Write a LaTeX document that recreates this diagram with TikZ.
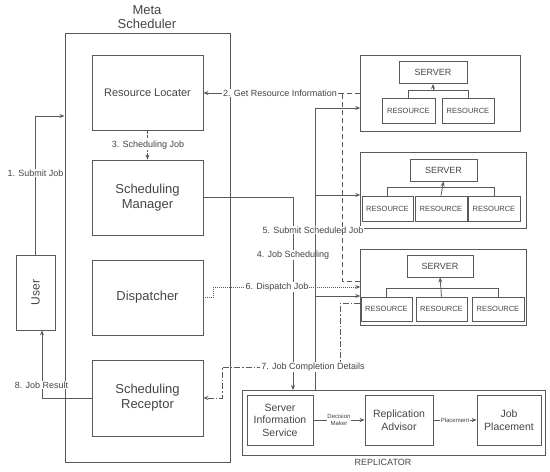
\documentclass[tikz,border=0pt]{standalone}
\usepackage{fontspec}
\setmainfont{Liberation Sans}
\usepackage{xcolor}
\usetikzlibrary{arrows.meta}
\definecolor{linec}{HTML}{5A5A5A}
\definecolor{txtc}{HTML}{454545}

\begin{document}
\begin{tikzpicture}[x=1pt,y=-1pt,>={Stealth[length=5pt,width=4pt]},
 box/.style={draw=linec,line width=0.8pt,text=txtc,align=center,inner sep=0pt},
 unit/.style={box,font=\fontsize{13}{15}\selectfont,minimum width=111pt,minimum height=75pt},
 srvbox/.style={box,font=\fontsize{9}{10}\selectfont,minimum height=22pt},
 resbox/.style={box,font=\fontsize{7.5}{9}\selectfont,minimum height=25pt},
 repbox/.style={box,font=\fontsize{10.5}{12.5}\selectfont,minimum height=50pt},
 flow/.style={draw=linec,line width=0.8pt},
 getline/.style={flow,dash pattern=on 5pt off 3pt},
 displine/.style={flow,dash pattern=on 1pt off 1pt},
 doneline/.style={flow,dash pattern=on 6pt off 2pt on 1.5pt off 2pt},
 lbl/.style={fill=white,text=txtc,font=\fontsize{9}{10}\selectfont,inner sep=1pt},
 tiny/.style={fill=white,text=txtc,font=\fontsize{6}{6.5}\selectfont,inner sep=0.5pt,align=center}]
\useasboundingbox (0,0) rectangle (550,472);

% meta scheduler
\node[box,line width=1pt,minimum width=165pt,minimum height=429pt] (meta) at (147.5,247.5) {};
\node[text=txtc,align=center,font=\fontsize{13}{14}\selectfont] (metatitle) at (147,17) {Meta\\Scheduler};
\node[unit,font=\fontsize{11}{13}\selectfont] (locater) at (147.5,93) {Resource Locater};
\node[unit] (manager) at (147.5,197.5) {Scheduling\\Manager};
\node[unit] (dispatcher) at (147.5,297.5) {Dispatcher};
\node[unit,minimum height=76pt] (receptor) at (147.5,398) {Scheduling\\Receptor};
\node[box,font=\fontsize{12}{14}\selectfont,minimum width=39pt,minimum height=75pt] (user) at (35.5,292.5) {\rotatebox{90}{User}};

% servers
\node[box,minimum width=160pt,minimum height=76pt] (srvA) at (440.7,93) {};
\node[srvbox,minimum width=68pt] (serverA) at (433,72.5) {SERVER};
\node[resbox,minimum width=53pt] (resA1) at (408.5,111) {RESOURCE};
\node[resbox,minimum width=52pt] (resA2) at (468,111) {RESOURCE};
\node[box,minimum width=166pt,minimum height=76pt] (srvB) at (443.7,190) {};
\node[srvbox,minimum width=67pt] (serverB) at (443.5,170) {SERVER};
\node[resbox,minimum width=51pt] (resB1) at (387.5,208.5) {RESOURCE};
\node[resbox,minimum width=52pt] (resB2) at (441,208.5) {RESOURCE};
\node[resbox,minimum width=52pt] (resB3) at (494,208.5) {RESOURCE};
\node[box,minimum width=166pt,minimum height=76pt] (srvC) at (443.7,287) {};
\node[srvbox,minimum width=66pt] (serverC) at (440,266) {SERVER};
\node[resbox,minimum width=51pt,minimum height=24pt] (resC1) at (386.5,309) {RESOURCE};
\node[resbox,minimum width=51pt,minimum height=24pt] (resC2) at (441.5,309) {RESOURCE};
\node[resbox,minimum width=52pt,minimum height=24pt] (resC3) at (498,309) {RESOURCE};
\draw[flow] (resA1.north) -- ++(0,-8) -| (resA2.north);
\draw[flow,->] (serverA.south |- resA1.north) ++(0,-8) -- (serverA.south);
\draw[flow] (resB1.north) -- ++(0,-8) -| (resB3.north);
\draw[flow,->] (resB2.north) -- (serverB.south);
\draw[flow] (resC1.north) -- ++(0,-8) -| (resC3.north);
\draw[flow,->] (resC2.north) -- (serverC.south);

% replicator
\node[box,minimum width=303pt,minimum height=65pt] (replicator) at (393.5,422.5) {};
\node[text=txtc,font=\fontsize{9}{10}\selectfont] (replabel) at (383,462) {REPLICATOR};
\node[repbox,minimum width=66pt] (sis) at (280,420) {Server\\Information\\Service};
\node[repbox,minimum width=68pt] (advisor) at (399,420) {Replication\\Advisor};
\node[repbox,minimum width=64pt] (placement) at (509,420) {Job\\Placement};
\draw[flow,->] (sis) -- (advisor) node[tiny,midway] (ldecision) {Decision\\Maker};
\draw[flow,->] (advisor) -- (placement) node[tiny,midway] (lplacement) {Placement};
\coordinate (jobin) at (293,390);
\coordinate (jobout) at (315,390);

% numbered steps
\draw[flow,->] (user.north) |- ([yshift=131.5pt]meta.west);
\node[lbl] (l1) at (35.5,173) {1. Submit Job};
\draw[flow,dash pattern=on 3pt off 1.5pt,->] (locater.south) -- (manager.north);
\node[lbl] (l3) at (148,145) {3. Scheduling Job};
\draw[flow,->] (manager.east) -| (jobin);
\node[lbl] (l4) at (293,255) {4. Job Scheduling};
\draw[flow,<-] ([yshift=-15pt]srvA.west) -| (jobout);
\draw[flow,<-] ([yshift=-5pt]srvB.west) -| (jobout);
\draw[flow,<-] ([yshift=-9pt]srvC.west) -| (jobout);
\node[lbl] (l5) at (313,230) {5. Submit Scheduled Job};
\draw[getline,->] (srvA.west) -- (locater.east);
\draw[getline] ([yshift=6pt]srvC.west) -- ++(-18,0) |- (locater.east);
\node[lbl] (l2) at (280,93) {2. Get Resource Information};
\draw[displine,->] (dispatcher.east) -- ++(10,0) |- (srvC.west);
\node[lbl] (l6) at (277,287) {6. Dispatch Job};
\coordinate (donebend) at (222,367);
\draw[doneline,->] ([yshift=-16pt]srvC.west) -- ++(-20,0) |- (donebend) |- (receptor.east);
\node[lbl] (l7) at (313,367) {7. Job Completion Details};
\draw[flow,->] (receptor.west) -| ([xshift=6.5pt]user.south);
\node[lbl] (l8) at (41.5,385) {8. Job Result};
\end{tikzpicture}
\end{document}
